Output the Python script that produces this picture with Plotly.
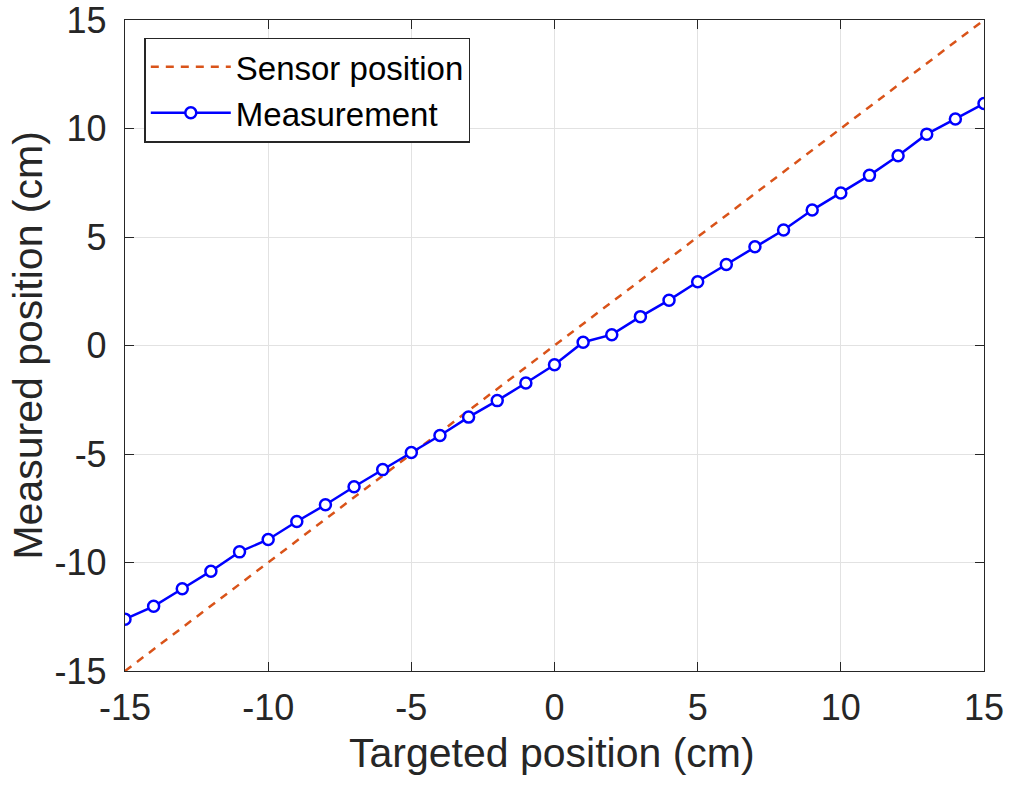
import plotly.graph_objects as go

target = list(range(-15, 16))
measured = [-12.61, -12.02, -11.21, -10.40, -9.51, -8.94, -8.11, -7.34, -6.51, -5.72,
            -4.93, -4.15, -3.30, -2.54, -1.73, -0.89, 0.15, 0.50, 1.33, 2.09,
            2.94, 3.73, 4.55, 5.32, 6.24, 7.03, 7.84, 8.74, 9.74, 10.44, 11.15]
sensor_x = [-15, 15]
sensor_y = [-15, 15]
tick_vals = [-15, -10, -5, 0, 5, 10, 15]
tick_text = ["-15", "-10", "-5", "0", "5", "10", "15"]
x_title = "Targeted position (cm)"
y_title = "Measured position (cm)"

FONT = "Liberation Sans, Arial, sans-serif"
TXT = "#262626"

fig = go.Figure()
fig.add_trace(go.Scatter(
    x=sensor_x, y=sensor_y, mode="lines", name="Sensor position",
    line=dict(color="#D95319", width=2.5, dash="8px,7px"),
))
fig.add_trace(go.Scatter(
    x=target, y=measured, mode="lines+markers", name="Measurement",
    line=dict(color="#0000FF", width=2.5),
    marker=dict(symbol="circle", size=11, color="white",
                line=dict(color="#0000FF", width=2.5)),
))

axis_common = dict(
    range=[-15, 15], tickmode="array", tickvals=tick_vals, ticktext=tick_text,
    showgrid=True, gridcolor="#e2e2e2", gridwidth=1,
    zeroline=False, showline=True, linecolor=TXT, linewidth=1.3,
    mirror="ticks", ticks="inside", ticklen=9, tickwidth=1.3, tickcolor=TXT,
    tickfont=dict(family=FONT, size=36, color=TXT),
    automargin=False, ticklabeloverflow="allow",
)

fig.update_layout(
    template="none",
    width=1010, height=788,
    margin=dict(l=125, r=26, t=20, b=117, pad=0),
    paper_bgcolor="white", plot_bgcolor="white",
    xaxis=dict(**axis_common, ticklabelstandoff=5),
    yaxis=dict(**axis_common, ticklabelstandoff=10),
    legend=dict(
        x=0.0227, y=0.973, xanchor="left", yanchor="top",
        bgcolor="white", bordercolor=TXT, borderwidth=1.3,
        font=dict(family=FONT, size=33, color="black"),
        itemwidth=80, tracegroupgap=0,
    ),
    showlegend=True,
    annotations=[
        dict(text=x_title, xref="paper", yref="paper", x=0.497, y=-0.126,
             xanchor="center", yanchor="middle", showarrow=False,
             font=dict(family=FONT, size=41, color=TXT)),
        dict(text=y_title, xref="paper", yref="paper", x=-0.114, y=0.5,
             xanchor="center", yanchor="middle", showarrow=False, textangle=-90,
             font=dict(family=FONT, size=41, color=TXT)),
    ],
)

fig.write_html("out.html", config={"displayModeBar": False},
               post_script="document.body.style.margin='0';")
